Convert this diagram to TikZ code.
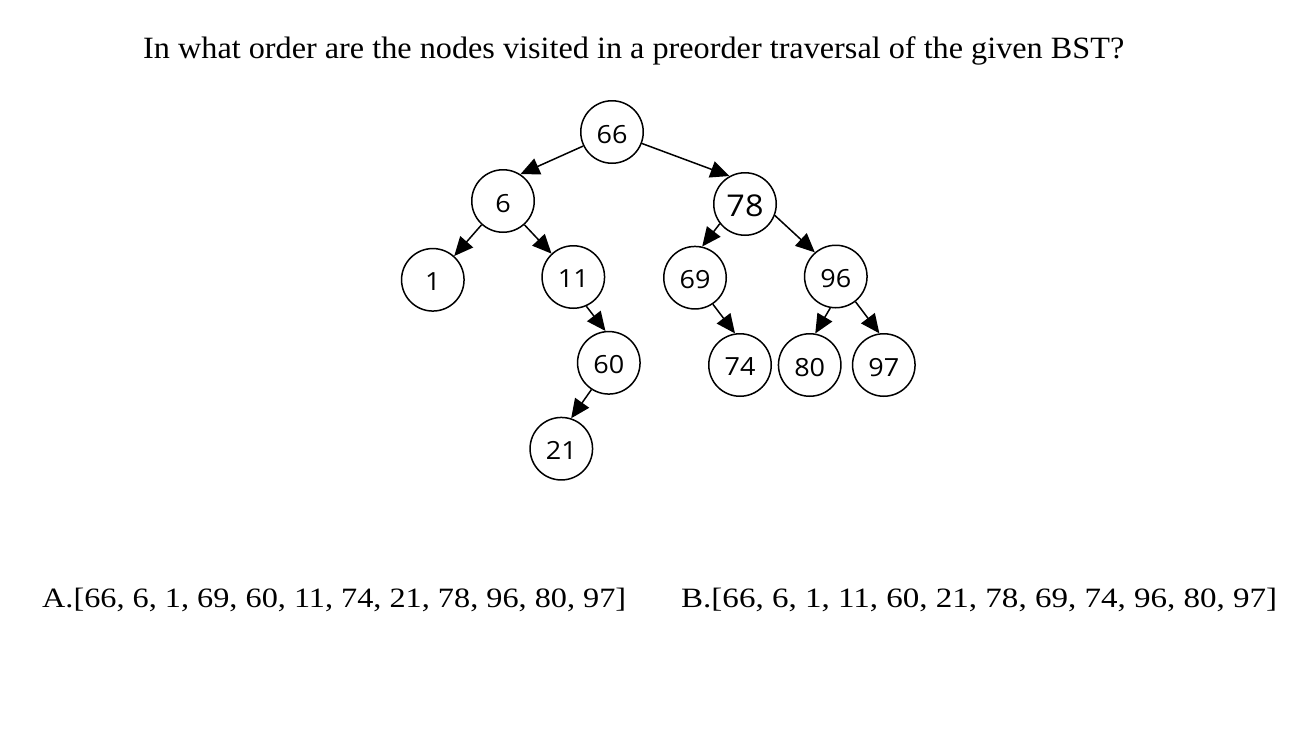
\documentclass[tikz,border=0pt]{standalone}
\usepackage{fontspec}
\usepackage{graphicx}
\setmainfont{Liberation Serif}
\newfontfamily\numfont{Open Sans}
\usetikzlibrary{arrows.meta}
\tikzset{
  bst/.style={circle, draw=black, line width=1.5pt, minimum size=62.5pt, inner sep=0pt,
    font=\numfont\fontsize{25}{25}\selectfont},
  bstbig/.style={bst, font=\numfont\fontsize{30}{30}\selectfont},
  edge/.style={line width=1.5pt, -{Triangle[length=19pt,width=17pt]}},
  txt/.style={inner sep=0pt, anchor=base west, font=\fontsize{28}{28}\selectfont}
}
\newcommand{\widenum}[1]{\raisebox{-2pt}[\height][0pt]{\scalebox{1.08}[1]{#1}}}
\begin{document}
\begin{tikzpicture}[x=1pt,y=-1pt]
\useasboundingbox (0,0) rectangle (1300,731);
\fill[white] (0,0) rectangle (1300,731);
% title and answers
\node[txt, font=\fontsize{31}{31}\selectfont] (title) at (143,58.3)
  {\resizebox{981pt}{\height}{In what order are the nodes visited in a preorder traversal of the given BST?}};
\node[txt] (ansA) at (42,607.3)
  {\resizebox{584pt}{\height}{A.[66, 6, 1, 69, 60, 11, 74, 21, 78, 96, 80, 97]}};
\node[txt] (ansB) at (681,607.3)
  {\resizebox{596pt}{\height}{B.[66, 6, 1, 11, 60, 21, 78, 69, 74, 96, 80, 97]}};
% tree nodes
\node[bst] (n66) at (612,132) {\widenum{66}};
\node[bst] (n6) at (503,201) {\widenum{6}};
\node[bstbig] (n78) at (745,204) {\widenum{78}};
\node[bst] (n1) at (432.8,279.8) {\widenum{1}};
\node[bst] (n11) at (573.3,277) {\widenum{11}};
\node[bst] (n69) at (695,277.7) {\widenum{69}};
\node[bst] (n96) at (835.8,276.5) {\widenum{96}};
\node[bst] (n60) at (608.8,362.8) {\widenum{60}};
\node[bst] (n74) at (740,365) {\widenum{74}};
\node[bst] (n80) at (809.7,365) {\widenum{80}};
\node[bst] (n97) at (883.8,365) {\widenum{97}};
\node[bst] (n21) at (561.3,448.7) {\widenum{21}};
% edges
\draw[edge] (n66.206.8) -- (n6.57);
\draw[edge] (n66.339.4) -- (n78.119.3);
\draw[edge] (n6.228) -- (n1.48);
\draw[edge] (n6.312) -- (n11.133.8);
\draw[edge] (n11.294.3) -- (n60.96.7);
\draw[edge] (n60.237) -- (n21.72);
\draw[edge] (n78.218.2) -- (n69.77.5);
\draw[edge] (n78.339) -- (n96.131);
\draw[edge] (n69.304) -- (n74.99);
\draw[edge] (n96.260) -- (n80.80.7);
\draw[edge] (n96.308.6) -- (n97.98);
\end{tikzpicture}
\end{document}
